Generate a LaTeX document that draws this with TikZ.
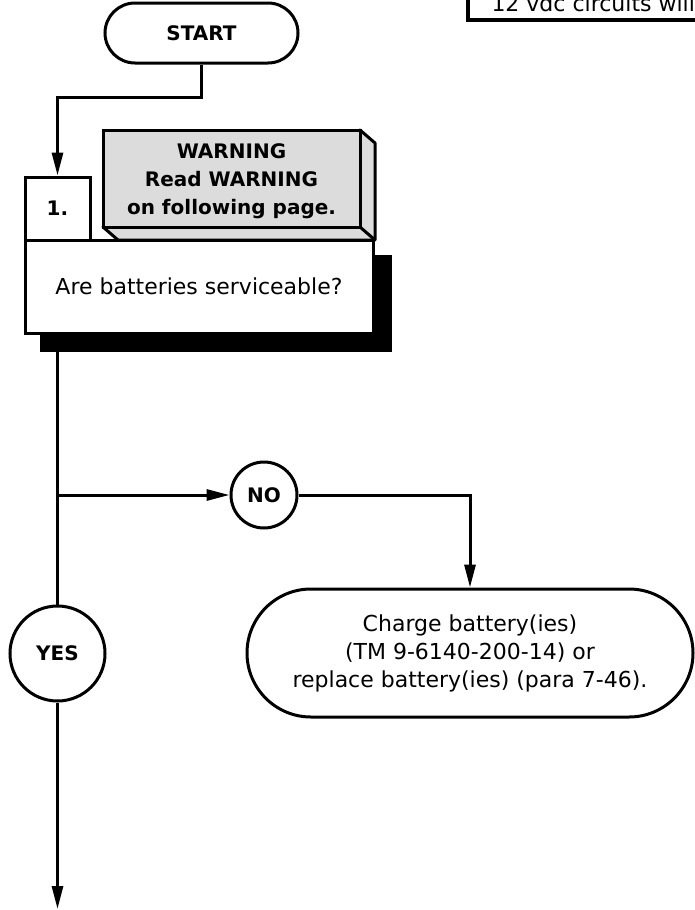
\documentclass[tikz,border=0pt]{standalone}
\usepackage{fontspec}
\setmainfont{DejaVu Sans}
\usetikzlibrary{arrows.meta,shapes.misc}
\definecolor{facegray}{RGB}{220,220,220}
\begin{document}
\begin{tikzpicture}[x=1pt,y=-1pt,line width=3pt,
  regtxt/.style={font=\fontsize{22}{28}\selectfont,align=center},
  boldtxt/.style={font=\fontsize{20}{28}\selectfont\bfseries,align=center},
  term/.style={draw,rounded rectangle,inner sep=0pt,fill=white},
  boxx/.style={draw,rectangle,inner sep=0pt,fill=white},
  circ/.style={draw,circle,inner sep=0pt,fill=white},
  arr/.style={-{Triangle[length=23pt,width=11pt]}}]
\useasboundingbox (0,0) rectangle (695,910);
\clip (0,0) rectangle (695,910);
% top right partial box
\draw[line width=4pt] (468,-10) |- (720,20);
\node[regtxt,anchor=base west,inner sep=0pt] (note) at (490,11) {12 vdc circuits will};
% START
\node[term,boldtxt,minimum width=193pt,minimum height=60pt] (start) at (201.5,33) {START};
% shadow of question box
\fill (40,255) rectangle (392,352);
% question box
\node[boxx,regtxt,minimum width=348pt,minimum height=93pt] (q) at (199,286.5) {Are batteries serviceable?};
\node[boxx,boldtxt,minimum width=65pt,minimum height=63pt] (box1) at (57.5,208.5) {1.};
% warning 3D box
\filldraw[fill=facegray,line join=round] (360,130) -- (375,143) -- (375,240) -- (118,240) -- (103,227) -- (360,227) -- cycle;
\draw (360,227) -- (375,240);
\node[draw,fill=facegray,inner sep=0pt,minimum width=257pt,minimum height=97pt] (warn) at (231.5,178.5) {};
\node[boldtxt,inner sep=0pt] (warntext) at (231.5,181) {WARNING\\Read WARNING\\on following page.};
% decisions
\node[circ,boldtxt,minimum size=66pt] (no) at (264,495) {NO};
\node[circ,boldtxt,minimum size=95pt] (yes) at (57.5,653.5) {YES};
\node[term,regtxt,minimum width=446pt,minimum height=128pt] (charge) at (470,653) {Charge battery(ies)\\(TM 9-6140-200-14) or\\replace battery(ies) (para 7-46).};
% connectors
\coordinate (bend) at (201.5,97);
\coordinate (branch) at (57.5,495);
\coordinate (qout) at (57.5,333);
\coordinate (finish) at (57.5,909);
\draw[arr] (start.south) -- (bend) -| (box1.north);
\draw (qout) -- (yes.north);
\draw[arr] (branch) -- (no.west);
\draw[arr] (no.east) -| (charge.north);
\draw[arr] (yes.south) -- (finish);
\end{tikzpicture}
\end{document}
